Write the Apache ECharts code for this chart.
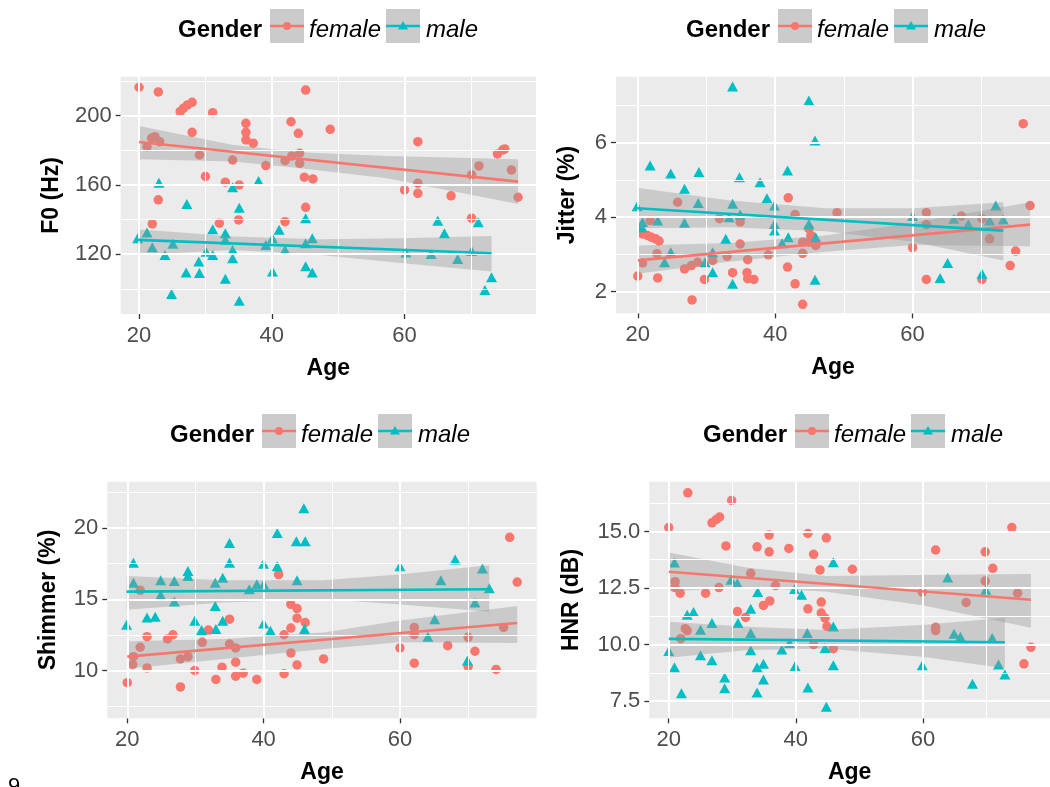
<!DOCTYPE html>
<html><head><meta charset="utf-8">
<script src="https://cdn.jsdelivr.net/npm/echarts@6/dist/echarts.min.js"></script>
<style>html,body{margin:0;padding:0;background:#fff}#c{width:1050px;height:787px}</style>
</head><body><div id="c"></div>
<script>
// ---------- tick values ----------
const xTickValues = [20, 40, 60];
const xMinorValues = [30, 50, 70];
const f0Ticks = [120, 160, 200];
const f0Minor = [100, 140, 180, 220];
const jitterTicks = [2, 4, 6];
const jitterMinor = [3, 5, 7];
const shimmerTicks = [10, 15, 20];
const shimmerMinor = [7.5, 12.5, 17.5, 22.5];
const hnrTicks = [7.5, 10, 12.5, 15];
const hnrMinor = [8.75, 11.25, 13.75, 16.25];

const genderLevels = ['female', 'male'];

// ---------- F0 (Hz) ----------
const f0Female = [[20.0,216.4],[22.9,213.7],[26.2,202.3],[26.7,204.3],[27.3,206.2],[28.0,207.7],[31.1,201.7],[45.1,214.8],[42.9,196.5],[44.0,189.8],[36.1,195.6],[36.1,190.4],[36.1,186.0],[37.2,184.1],[48.8,192.1],[28.0,190.4],[21.2,182.1],[21.9,187.0],[22.4,187.9],[23.1,185.0],[29.1,177.3],[34.1,174.4],[39.1,171.2],[42.0,174.0],[43.0,176.7],[44.2,178.3],[44.2,172.5],[44.9,164.5],[46.2,163.5],[30.0,164.9],[33.0,161.6],[35.1,160.0],[22.9,151.4],[45.1,147.1],[22.0,137.5],[32.1,137.9],[35.0,139.8],[42.0,138.8],[62.0,185.0],[74.0,177.9],[74.8,180.2],[75.1,180.8],[71.2,171.0],[70.1,165.8],[76.1,168.7],[62.0,161.0],[60.0,157.1],[62.0,155.2],[67.0,153.7],[77.1,152.9],[70.1,140.8]];
const f0Male = [[23.0,161.3],[38.0,162.3],[34.1,158.7],[27.2,149.0],[35.1,146.9],[45.1,140.8],[19.8,129.3],[21.2,132.5],[22.0,124.1],[23.9,119.6],[25.1,126.0],[27.1,109.4],[29.1,109.1],[24.9,97.0],[29.0,115.8],[30.1,121.5],[31.1,119.6],[31.1,134.4],[33.0,132.1],[33.0,128.3],[34.1,122.5],[34.1,117.7],[33.0,105.8],[35.1,93.1],[40.1,110.0],[39.1,125.4],[40.1,129.3],[41.1,134.1],[42.0,122.5],[45.1,113.0],[46.1,109.4],[45.1,126.4],[46.1,129.3],[65.0,139.4],[66.0,132.1],[71.1,138.5],[60.2,121.0],[64.0,120.2],[68.0,117.3],[70.1,121.9],[73.1,106.7],[72.1,99.4]];
const f0FemaleFit = [[20.0,184.8],[77.1,161.9]];
const f0MaleFit = [[19.8,128.3],[73.1,120.6]];
const f0FemaleBand = [[20.0,174.8,194.1],[34.2,173.5,183.1],[44.3,169.6,178.9],[57.3,163.9,176.7],[77.1,149.0,174.8]];
const f0MaleBand = [[19.8,119.6,134.4],[34.2,122.5,130.2],[47.3,119.6,128.7],[59.8,114.8,129.2],[73.1,110.0,130.6]];

// ---------- Jitter (%) ----------
const jitterFemale = [[41.9,4.52],[25.8,4.40],[31.9,3.96],[34.9,3.87],[42.9,4.07],[21.8,3.91],[20.7,3.55],[21.4,3.51],[22.0,3.46],[22.6,3.42],[23.1,3.36],[44.9,3.69],[45.2,3.51],[44.9,3.33],[34.9,3.28],[44.0,3.33],[45.9,3.24],[22.8,3.02],[44.0,3.03],[39.0,2.99],[33.0,2.95],[30.9,2.84],[36.0,2.86],[20.7,2.77],[26.8,2.61],[27.8,2.70],[28.7,2.79],[41.8,2.66],[20.0,2.42],[22.9,2.37],[29.7,2.33],[33.8,2.51],[35.9,2.51],[36.0,2.35],[36.9,2.33],[42.9,2.21],[27.9,1.78],[44.0,1.66],[76.1,6.51],[77.1,4.31],[49.0,4.12],[62.0,4.12],[62.0,3.80],[67.1,4.03],[70.1,3.96],[71.2,3.42],[60.0,3.18],[75.0,3.09],[74.2,2.70],[62.0,2.33],[70.1,2.33]];
const jitterMale = [[33.8,7.51],[44.9,7.13],[45.8,6.06],[21.8,5.39],[24.8,5.17],[28.9,5.21],[34.8,5.07],[37.8,4.94],[41.8,5.25],[26.8,4.76],[38.8,4.51],[39.9,4.31],[19.9,4.29],[28.8,4.38],[33.8,4.36],[33.3,4.00],[34.9,4.07],[20.7,3.87],[20.6,3.73],[22.9,3.91],[26.8,3.85],[39.9,3.82],[39.9,3.64],[32.8,3.42],[41.0,3.30],[41.9,3.46],[44.9,3.82],[45.9,3.46],[24.8,3.06],[30.9,3.06],[23.9,2.79],[29.8,2.79],[30.9,2.52],[33.8,2.21],[45.8,2.32],[60.0,4.03],[66.0,3.96],[68.1,3.82],[72.1,4.31],[71.2,3.91],[73.2,3.94],[65.1,2.77],[64.0,2.37],[70.1,2.48]];
const jitterFemaleFit = [[20.0,2.84],[77.1,3.80]];
const jitterMaleFit = [[19.9,4.24],[73.2,3.64]];
const jitterFemaleBand = [[20.0,2.48,3.24],[33.5,2.81,3.31],[47.3,3.07,3.51],[60.1,3.25,3.85],[77.1,3.22,4.40]];
const jitterMaleBand = [[19.9,3.70,4.79],[33.5,3.73,4.45],[47.3,3.62,4.24],[60.1,3.34,4.24],[73.2,2.84,4.40]];

// ---------- Shimmer (%) ----------
const shimmerFemale = [[42.2,16.74],[21.9,15.63],[44.0,14.65],[44.9,14.35],[44.9,13.67],[46.1,13.37],[35.0,13.60],[31.9,12.84],[44.0,12.98],[22.9,12.37],[25.9,12.21],[26.7,12.51],[43.0,12.51],[31.0,11.98],[35.0,11.86],[35.9,11.58],[21.9,11.63],[20.9,10.97],[20.8,10.42],[27.8,10.81],[28.9,10.97],[44.0,11.23],[35.9,10.58],[22.9,10.18],[29.9,10.00],[33.9,10.23],[44.9,10.39],[48.8,10.81],[20.0,9.14],[27.8,8.84],[33.0,9.37],[35.9,9.60],[37.0,9.81],[39.0,9.37],[43.0,9.77],[76.1,19.35],[77.2,16.21],[62.1,13.02],[62.1,12.51],[75.2,13.02],[70.0,12.33],[67.0,11.74],[60.0,11.58],[71.0,11.35],[62.1,10.51],[70.0,10.28],[74.1,10.07]];
const shimmerMale = [[45.9,21.40],[42.0,19.65],[35.0,18.96],[44.8,19.07],[46.1,19.07],[20.9,17.56],[35.0,17.56],[40.0,17.49],[42.0,17.32],[28.9,16.98],[28.9,16.63],[20.9,16.16],[24.9,16.33],[26.9,16.28],[34.0,16.51],[32.9,16.16],[37.9,15.70],[39.0,16.05],[40.0,16.05],[44.9,16.33],[24.9,15.30],[26.9,14.84],[32.9,14.53],[22.9,13.72],[24.1,13.77],[19.9,13.21],[29.9,13.49],[34.0,13.49],[30.9,12.84],[33.0,12.91],[40.0,13.30],[41.0,12.79],[46.0,12.91],[60.0,17.32],[68.1,17.79],[72.1,17.16],[66.0,16.33],[73.1,15.77],[71.0,14.77],[65.1,13.60],[64.1,12.37],[69.9,10.70]];
const shimmerFemaleFit = [[20.0,10.97],[77.2,13.33]];
const shimmerMaleFit = [[19.9,15.54],[73.1,15.70]];
const shimmerFemaleBand = [[20.0,10.12,12.05],[34.1,10.81,12.21],[48.8,11.51,12.67],[59.8,11.98,13.49],[77.2,11.93,14.53]];
const shimmerMaleBand = [[19.9,14.26,16.63],[34.1,14.77,16.33],[48.8,15.00,16.33],[59.8,14.65,16.74],[73.1,14.13,17.39]];

// ---------- HNR (dB) ----------
const hnrFemale = [[23.0,16.71],[29.9,16.37],[20.0,15.17],[26.8,15.38],[27.5,15.53],[28.0,15.64],[41.9,14.91],[35.8,14.84],[44.8,14.72],[29.0,14.36],[33.9,14.32],[38.9,14.25],[35.8,14.10],[42.8,13.99],[43.8,13.30],[32.9,13.15],[21.0,12.78],[21.0,12.52],[21.8,12.27],[25.8,12.27],[27.9,12.52],[36.8,12.61],[35.9,11.93],[34.9,11.73],[44.0,11.88],[30.8,11.46],[32.1,11.20],[41.9,11.58],[44.0,11.39],[44.6,11.17],[22.6,10.70],[22.9,10.62],[21.9,10.26],[42.8,10.00],[74.0,15.17],[62.0,14.18],[69.8,14.10],[71.0,13.37],[48.9,13.33],[69.8,12.81],[59.9,12.32],[74.9,12.27],[66.8,11.86],[44.9,10.80],[62.0,10.76],[62.0,10.62],[45.9,9.82],[77.0,9.88],[75.9,9.15]];
const hnrMale = [[20.9,13.63],[29.8,12.86],[30.8,12.71],[39.8,12.46],[40.9,12.20],[34.0,12.32],[32.9,11.58],[22.9,11.32],[23.9,11.44],[26.8,10.95],[25.0,10.66],[30.9,10.95],[32.9,10.51],[41.8,10.51],[39.0,10.07],[20.0,9.71],[25.0,9.53],[32.9,9.75],[37.8,9.78],[44.6,9.85],[26.8,9.31],[20.9,9.00],[33.9,9.00],[34.9,9.15],[39.9,9.05],[28.8,8.54],[34.9,8.46],[28.8,8.07],[22.0,7.85],[33.9,7.88],[41.9,8.10],[44.8,7.25],[45.9,13.64],[63.9,12.96],[69.9,12.42],[45.9,10.80],[64.9,10.48],[65.9,10.34],[70.9,10.29],[45.9,9.08],[59.9,9.09],[71.9,9.12],[72.9,8.68],[67.8,8.27]];
const hnrFemaleFit = [[20.0,13.22],[77.0,11.98]];
const hnrMaleFit = [[20.0,10.25],[72.9,10.10]];
const hnrFemaleBand = [[20.0,12.36,14.07],[32.4,12.52,13.40],[44.6,12.35,13.03],[59.9,11.74,13.07],[77.0,10.74,13.12]];
const hnrMaleBand = [[20.0,9.42,11.01],[32.4,9.76,10.79],[44.6,9.83,10.64],[59.9,9.46,10.86],[72.9,8.95,11.18]];

// ---------- styling / layout ----------
const FEM = '#F8766D', MAL = '#00BFC4';
const FONT = "'Liberation Sans', Arial, sans-serif";
const panels = [
  {grid:{left:120.7, top:76.7, width:415.3, height:237.3}, xr:[17.24,79.8], yr:[85.5,222.5], yName:'F0 (Hz)', yGap:58,
   ticks:f0Ticks, minor:f0Minor, fmt:v=>String(v), fem:f0Female, mal:f0Male, femFit:f0FemaleFit, malFit:f0MaleFit, femBand:f0FemaleBand, malBand:f0MaleBand},
  {grid:{left:616, top:76.7, width:443.8, height:236.6}, xr:[16.83,80], yr:[1.42,7.77], yName:'Jitter (%)', yGap:37,
   ticks:jitterTicks, minor:jitterMinor, fmt:v=>String(v), fem:jitterFemale, mal:jitterMale, femFit:jitterFemaleFit, malFit:jitterMaleFit, femBand:jitterFemaleBand, malBand:jitterMaleBand},
  {grid:{left:107.3, top:481.7, width:429.4, height:236.6}, xr:[17.07,80.06], yr:[6.64,23.26], yName:'Shimmer (%)', yGap:47,
   ticks:shimmerTicks, minor:shimmerMinor, fmt:v=>String(v), fem:shimmerFemale, mal:shimmerMale, femFit:shimmerFemaleFit, malFit:shimmerMaleFit, femBand:shimmerFemaleBand, malBand:shimmerMaleBand},
  {grid:{left:649.3, top:481.7, width:411.7, height:236.6}, xr:[16.94,80], yr:[6.74,17.2], yName:'HNR (dB)', yGap:66,
   ticks:hnrTicks, minor:hnrMinor, fmt:v=>v.toFixed(1), fem:hnrFemale, mal:hnrMale, femFit:hnrFemaleFit, malFit:hnrMaleFit, femBand:hnrFemaleBand, malBand:hnrMaleBand}
];

const grids = [], xAxes = [], yAxes = [], series = [];

function bandSeries(i, band){
  return {type:'custom', xAxisIndex:i, yAxisIndex:i, z:4, silent:true, animation:false, data:band,
    renderItem:function(params, api){
      if (params.dataIndex !== 0) return;
      const pts = [];
      for (let k = 0; k < band.length; k++) pts.push(api.coord([band[k][0], band[k][2]]));
      for (let k = band.length - 1; k >= 0; k--) pts.push(api.coord([band[k][0], band[k][1]]));
      return {type:'polygon', shape:{points:pts}, style:{fill:'#999999', opacity:0.4}};
    }};
}

panels.forEach((p, i) => {
  grids.push(Object.assign({show:true, backgroundColor:'#EBEBEB', borderWidth:0, containLabel:false}, p.grid));
  xAxes.push({type:'value', gridIndex:i, min:p.xr[0], max:p.xr[1],
    name:'Age', nameLocation:'middle', nameGap:43,
    nameTextStyle:{fontFamily:FONT, fontWeight:'bold', fontSize:23, color:'#000'},
    axisLine:{show:false}, splitLine:{show:false},
    axisTick:{show:true, customValues:xTickValues, length:5, lineStyle:{color:'#333', width:1.3}},
    axisLabel:{customValues:xTickValues, color:'#4D4D4D', fontFamily:FONT, fontSize:22, margin:11}});
  yAxes.push({type:'value', gridIndex:i, min:p.yr[0], max:p.yr[1],
    name:p.yName, nameLocation:'middle', nameGap:p.yGap, nameRotate:90,
    nameTextStyle:{fontFamily:FONT, fontWeight:'bold', fontSize:23, color:'#000'},
    axisLine:{show:false}, splitLine:{show:false},
    axisTick:{show:true, customValues:p.ticks, length:5, lineStyle:{color:'#333', width:1.3}},
    axisLabel:{customValues:p.ticks, color:'#4D4D4D', fontFamily:FONT, fontSize:22, margin:9, formatter:p.fmt}});
  const gl = [];
  xMinorValues.forEach(v => gl.push({xAxis:v, lineStyle:{width:1}}));
  p.minor.forEach(v => gl.push({yAxis:v, lineStyle:{width:1}}));
  xTickValues.forEach(v => gl.push({xAxis:v, lineStyle:{width:2}}));
  p.ticks.forEach(v => gl.push({yAxis:v, lineStyle:{width:2}}));
  series.push({type:'line', xAxisIndex:i, yAxisIndex:i, data:[], z:1, silent:true,
    markLine:{silent:true, symbol:['none','none'], label:{show:false}, animation:false,
      lineStyle:{color:'#FFFFFF', type:'solid'}, emphasis:{disabled:true}, data:gl}});
  series.push({type:'scatter', name:genderLevels[0], xAxisIndex:i, yAxisIndex:i, z:3, data:p.fem,
    symbol:'circle', symbolSize:9.5, itemStyle:{color:FEM, opacity:1}, silent:true, animation:false});
  series.push({type:'scatter', name:genderLevels[1], xAxisIndex:i, yAxisIndex:i, z:3, data:p.mal,
    symbol:'triangle', symbolSize:[11,10], itemStyle:{color:MAL, opacity:1}, silent:true, animation:false});
  series.push(bandSeries(i, p.femBand));
  series.push(bandSeries(i, p.malBand));
  series.push({type:'line', xAxisIndex:i, yAxisIndex:i, z:5, data:p.femFit, symbol:'none', showSymbol:false,
    lineStyle:{color:FEM, width:2.6}, silent:true, animation:false});
  series.push({type:'line', xAxisIndex:i, yAxisIndex:i, z:5, data:p.malFit, symbol:'none', showSymbol:false,
    lineStyle:{color:MAL, width:2.6}, silent:true, animation:false});
});

// legend drawn as graphic elements (absolute positions, no layout)
function legendElements(x0, yc){
  const by = yc - 4;
  return [
    {type:'text', x:x0, y:yc, silent:true, style:{text:'Gender', font:"bold 24px "+FONT, fill:'#000', verticalAlign:'middle', align:'left'}},
    {type:'rect', x:x0+92, y:by-17, silent:true, shape:{width:34, height:34}, style:{fill:'#CBCBCB'}},
    {type:'line', silent:true, shape:{x1:x0+92, y1:by, x2:x0+126, y2:by}, style:{stroke:FEM, lineWidth:2.6}},
    {type:'circle', silent:true, shape:{cx:x0+109, cy:by, r:4}, style:{fill:FEM}},
    {type:'text', x:x0+131, y:yc, silent:true, style:{text:genderLevels[0], font:"italic 24px "+FONT, fill:'#000', verticalAlign:'middle', align:'left'}},
    {type:'rect', x:x0+208, y:by-17, silent:true, shape:{width:34, height:34}, style:{fill:'#CBCBCB'}},
    {type:'line', silent:true, shape:{x1:x0+208, y1:by, x2:x0+242, y2:by}, style:{stroke:MAL, lineWidth:2.6}},
    {type:'polygon', silent:true, shape:{points:[[x0+225,by-5],[x0+230,by+3.5],[x0+220,by+3.5]]}, style:{fill:MAL}},
    {type:'text', x:x0+248, y:yc, silent:true, style:{text:genderLevels[1], font:"italic 24px "+FONT, fill:'#000', verticalAlign:'middle', align:'left'}}
  ];
}

const chart = echarts.init(document.getElementById('c'), null, {renderer:'canvas'});
chart.setOption({
  backgroundColor:'#FFFFFF',
  animation:false,
  grid:grids, xAxis:xAxes, yAxis:yAxes, series:series,
  graphic:[].concat(
    legendElements(178, 30), legendElements(686, 30), legendElements(170, 435), legendElements(703, 435),
    [{type:'text', x:8, y:776, silent:true, style:{text:'9', font:"22px "+FONT, fill:'#000'}}]
  )
});
</script>
</body></html>
